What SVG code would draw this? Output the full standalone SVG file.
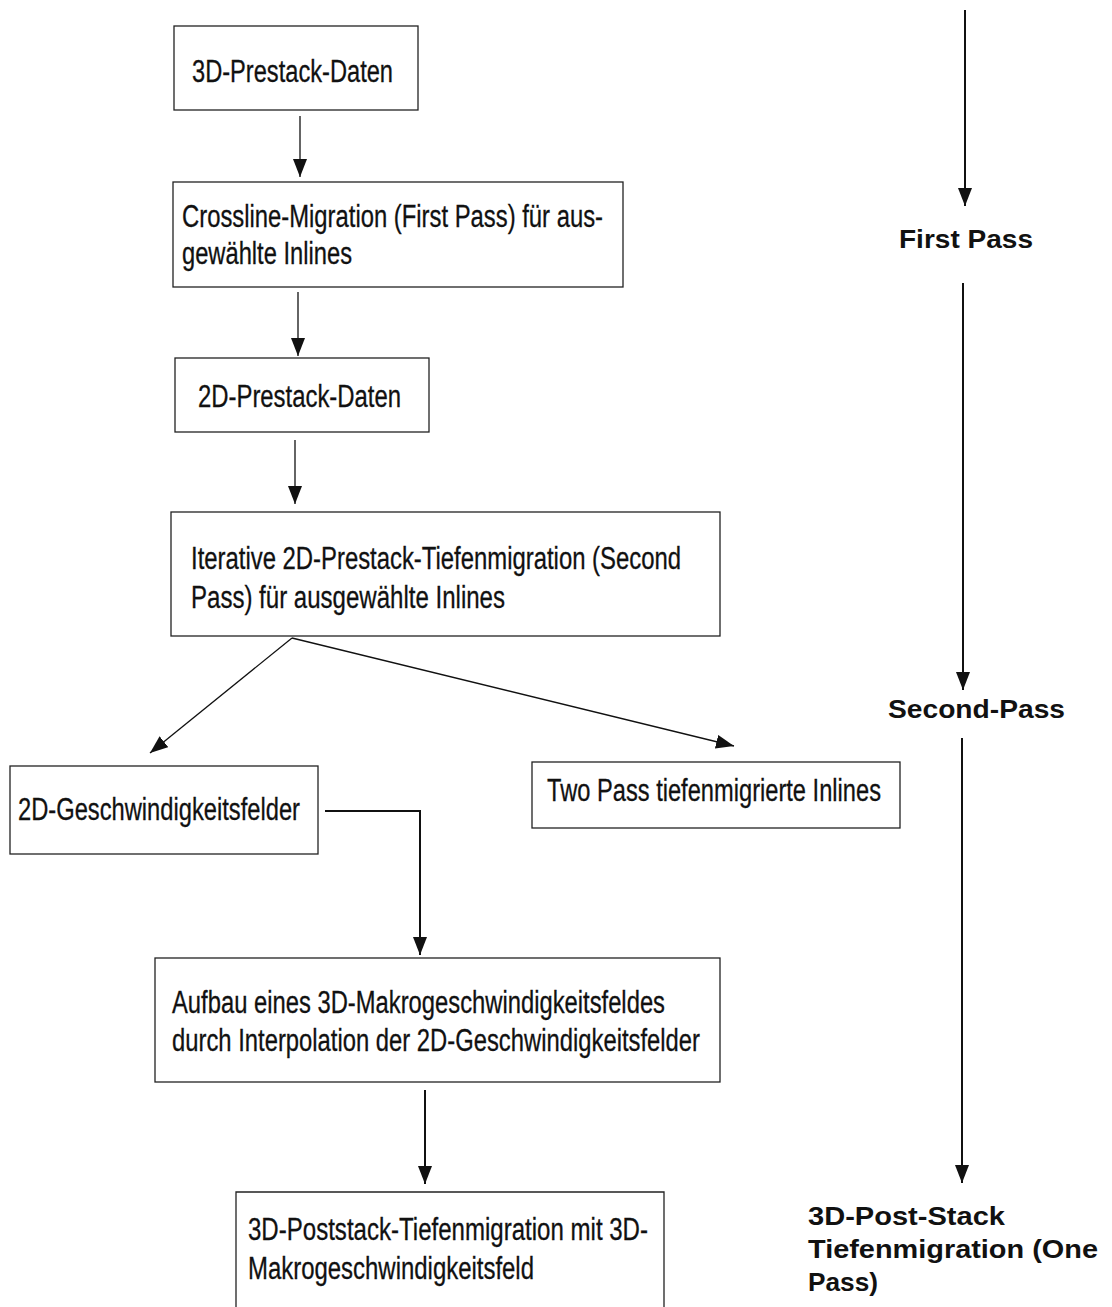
<svg xmlns="http://www.w3.org/2000/svg" width="1112" height="1307" viewBox="0 0 1112 1307">
<style>
.box{fill:#fff;stroke:#222;stroke-width:1.3}
.t{font-family:"Liberation Sans",Arial,sans-serif;font-size:31px;fill:#111;stroke:#111;stroke-width:0.3}
.b{font-family:"Liberation Sans",Arial,sans-serif;font-size:25px;font-weight:bold;fill:#111}
.c{fill:none;stroke:#111;stroke-width:1.3}
.c2{fill:none;stroke:#111;stroke-width:2}
</style>
<defs>
<marker id="ahd" markerUnits="userSpaceOnUse" markerWidth="18" markerHeight="14" viewBox="0 0 18 14" refX="18" refY="7" orient="auto">
<path d="M0,0 L18,7 L0,14 Z" fill="#111"/>
</marker>
</defs>
<rect width="1112" height="1307" fill="#fff"/>
<g id="connectors">
<line class="c" x1="300" y1="116" x2="300" y2="177" marker-end="url(#ahd)"/>
<line class="c" x1="298" y1="292" x2="298" y2="356" marker-end="url(#ahd)"/>
<line class="c" x1="295" y1="440" x2="295" y2="504" marker-end="url(#ahd)"/>
<line class="c" x1="292" y1="638" x2="150" y2="753" marker-end="url(#ahd)"/>
<line class="c" x1="292" y1="638" x2="734" y2="746" marker-end="url(#ahd)"/>
<polyline class="c2" points="325,811 420,811 420,955" marker-end="url(#ahd)"/>
<line class="c2" x1="425" y1="1090" x2="425" y2="1184" marker-end="url(#ahd)"/>
<line class="c2" x1="965" y1="10" x2="965" y2="206" marker-end="url(#ahd)"/>
<line class="c2" x1="963" y1="283" x2="963" y2="690" marker-end="url(#ahd)"/>
<line class="c2" x1="962" y1="738" x2="962" y2="1183" marker-end="url(#ahd)"/>
</g>
<g id="n1"><rect class="box" x="174" y="26" width="244" height="84"/><text class="t" x="192" y="82" textLength="201" lengthAdjust="spacingAndGlyphs">3D-Prestack-Daten</text></g>
<g id="n2"><rect class="box" x="173" y="182" width="450" height="105"/><text class="t" x="182" y="227" textLength="421" lengthAdjust="spacingAndGlyphs">Crossline-Migration (First Pass) für aus-</text><text class="t" x="182" y="264" textLength="170" lengthAdjust="spacingAndGlyphs">gewählte Inlines</text></g>
<g id="n3"><rect class="box" x="175" y="358" width="254" height="74"/><text class="t" x="198" y="407" textLength="203" lengthAdjust="spacingAndGlyphs">2D-Prestack-Daten</text></g>
<g id="n4"><rect class="box" x="171" y="512" width="549" height="124"/><text class="t" x="191" y="569" textLength="490" lengthAdjust="spacingAndGlyphs">Iterative 2D-Prestack-Tiefenmigration (Second</text><text class="t" x="191" y="608" textLength="314" lengthAdjust="spacingAndGlyphs">Pass) für ausgewählte Inlines</text></g>
<g id="n5"><rect class="box" x="10" y="766" width="308" height="88"/><text class="t" x="18" y="820" textLength="282" lengthAdjust="spacingAndGlyphs">2D-Geschwindigkeitsfelder</text></g>
<g id="n6"><rect class="box" x="532" y="762" width="368" height="66"/><text class="t" x="547" y="801" textLength="334" lengthAdjust="spacingAndGlyphs">Two Pass tiefenmigrierte Inlines</text></g>
<g id="n7"><rect class="box" x="155" y="958" width="565" height="124"/><text class="t" x="172" y="1013" textLength="493" lengthAdjust="spacingAndGlyphs">Aufbau eines 3D-Makrogeschwindigkeitsfeldes</text><text class="t" x="172" y="1051" textLength="528" lengthAdjust="spacingAndGlyphs">durch Interpolation der 2D-Geschwindigkeitsfelder</text></g>
<g id="n8"><path class="box" d="M236,1307 L236,1192 L664,1192 L664,1307"/><text class="t" x="248" y="1240" textLength="400" lengthAdjust="spacingAndGlyphs">3D-Poststack-Tiefenmigration mit 3D-</text><text class="t" x="248" y="1279" textLength="286" lengthAdjust="spacingAndGlyphs">Makrogeschwindigkeitsfeld</text></g>
<g id="l1"><text class="b" x="899" y="248" textLength="134" lengthAdjust="spacingAndGlyphs">First Pass</text></g>
<g id="l2"><text class="b" x="888" y="718" textLength="177" lengthAdjust="spacingAndGlyphs">Second-Pass</text></g>
<g id="l3"><text class="b" x="808" y="1225" textLength="197" lengthAdjust="spacingAndGlyphs">3D-Post-Stack</text><text class="b" x="808" y="1258" textLength="290" lengthAdjust="spacingAndGlyphs">Tiefenmigration (One</text><text class="b" x="808" y="1291" textLength="70" lengthAdjust="spacingAndGlyphs">Pass)</text></g>
</svg>
